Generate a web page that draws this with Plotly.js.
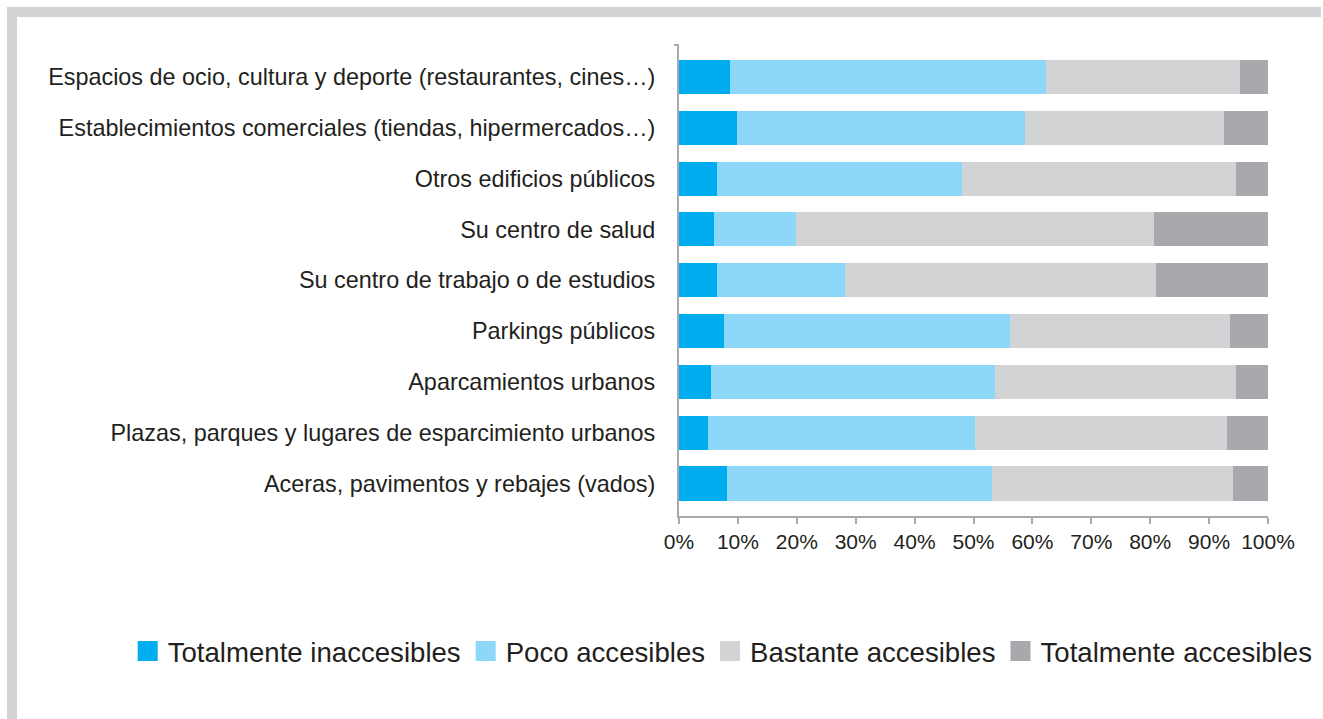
<!DOCTYPE html>
<html>
<head>
<meta charset="utf-8">
<script src="https://cdn.plot.ly/plotly-3.0.1.min.js"></script>
<style>
  html, body { margin: 0; padding: 0; background: #ffffff; }
  #chart { position: absolute; left: 0; top: 0; width: 1323px; height: 719px; }
  #frame { position: absolute; left: 7px; top: 7px; width: 1304px; height: 712px;
           border-top: 10px solid #d1d3d4; border-left: 10px solid #d1d3d4;
           pointer-events: none; z-index: 5; }
</style>
</head>
<body>
<div id="chart"></div>
<div id="frame"></div>
<script>
const categories = [
  "Espacios de ocio, cultura y deporte (restaurantes, cines…)",
  "Establecimientos comerciales (tiendas, hipermercados…)",
  "Otros edificios públicos",
  "Su centro de salud",
  "Su centro de trabajo o de estudios",
  "Parkings públicos",
  "Aparcamientos urbanos",
  "Plazas, parques y lugares de esparcimiento urbanos",
  "Aceras, pavimentos y rebajes (vados)"
];
const seriesNames = ["Totalmente inaccesibles", "Poco accesibles", "Bastante accesibles", "Totalmente accesibles"];
const totalmenteInaccesibles = [8.7, 9.9, 6.4, 6.0, 6.4, 7.7, 5.5, 5.0, 8.1];
const pocoAccesibles        = [53.6, 48.8, 41.7, 13.9, 21.8, 48.5, 48.2, 45.3, 45.1];
const bastanteAccesibles    = [33.0, 33.8, 46.5, 60.8, 52.7, 37.4, 40.9, 42.8, 40.9];
const totalmenteAccesibles  = [4.7, 7.5, 5.4, 19.3, 19.1, 6.4, 5.4, 6.9, 5.9];
const tickValues = [0, 10, 20, 30, 40, 50, 60, 70, 80, 90, 100];
const tickLabels = ["0%", "10%", "20%", "30%", "40%", "50%", "60%", "70%", "80%", "90%", "100%"];
const colors = ["#00aeef", "#8dd8f8", "#d1d3d4", "#a7a9ac"];

const seriesValues = [totalmenteInaccesibles, pocoAccesibles, bastanteAccesibles, totalmenteAccesibles];
const traces = seriesValues.map((vals, i) => ({
  type: "bar",
  orientation: "h",
  name: seriesNames[i],
  x: vals,
  y: categories,
  marker: { color: colors[i], line: { width: 0 } },
  hoverinfo: "x+y+name"
}));

const font = "Liberation Sans, Arial, sans-serif";
const layout = {
  width: 1323,
  height: 719,
  barmode: "stack",
  bargap: 0.33,
  paper_bgcolor: "#ffffff",
  plot_bgcolor: "#ffffff",
  margin: { l: 679, r: 55, t: 45, b: 203, pad: 0, autoexpand: false },
  font: { family: font, color: "#231f20", size: 20 },
  xaxis: {
    range: [0, 100],
    tickvals: tickValues,
    ticktext: tickLabels,
    ticks: "outside",
    ticklen: 6,
    tickwidth: 2,
    tickcolor: "#a7a9ac",
    showline: true,
    linecolor: "#a7a9ac",
    linewidth: 2,
    showgrid: false,
    zeroline: false,
    tickfont: { family: font, size: 21, color: "#231f20" },
    fixedrange: true
  },
  yaxis: {
    type: "category",
    categoryorder: "array",
    categoryarray: categories,
    range: [8.64, -0.63],
    showline: true,
    linecolor: "#a7a9ac",
    linewidth: 2,
    ticks: "",
    showgrid: false,
    zeroline: false,
    ticklabelstandoff: 17,
    tickfont: { family: font, size: 23.4, color: "#231f20" },
    fixedrange: true
  },
  shapes: [
    { type: "line", xref: "paper", yref: "paper", x0: -0.0085, x1: 0, y0: 1, y1: 1,
      line: { color: "#a7a9ac", width: 2 } }
  ],
  showlegend: true,
  legend: {
    orientation: "h",
    xref: "paper",
    yref: "paper",
    x: -0.936,
    xanchor: "left",
    y: -0.2866,
    yanchor: "middle",
    font: { family: font, size: 27.6, color: "#231f20" },
    traceorder: "normal",
    itemwidth: 30,
    bgcolor: "rgba(0,0,0,0)"
  }
};

Plotly.newPlot("chart", traces, layout, { displayModeBar: false, responsive: false }).then(gd => {
  // enlarge the legend swatches to match the reference's square keys
  gd.querySelectorAll(".legend .legendpoints path").forEach(p => {
    p.setAttribute("d", "M10,10H-10V-10H10Z");
  });
});
</script>
</body>
</html>
